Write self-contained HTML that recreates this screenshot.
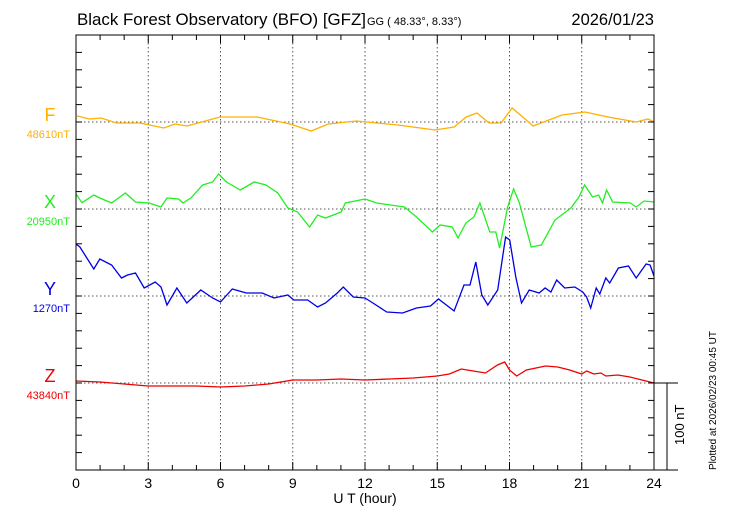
<!DOCTYPE html>
<html><head><meta charset="utf-8"><style>
body{margin:0;background:#fff;}
svg{display:block;font-family:"Liberation Sans",sans-serif;}
</style></head><body>
<svg id="chart" width="730" height="520" viewBox="0 0 730 520" xmlns="http://www.w3.org/2000/svg">
<text x="77" y="25" font-size="16.5" textLength="289" lengthAdjust="spacingAndGlyphs">Black Forest Observatory (BFO)  [GFZ]</text>
<text x="367" y="25" font-size="11">GG ( 48.33°,   8.33°)</text>
<text x="654" y="25" font-size="16.5" text-anchor="end">2026/01/23</text>
<text x="365" y="503" font-size="14" text-anchor="middle">U T (hour)</text>
<text transform="translate(716,470) rotate(-90)" font-size="10">Plotted at 2026/02/23 00:45 UT</text>
<text transform="translate(684,445) rotate(-90)" font-size="13">100 nT</text>
<g id="grid"></g><g id="series"></g><g id="frame"></g>
</svg>
<script>
const fHours=[0.04,0.54,1.04,1.7,2.66,3.65,4.11,4.61,5.98,7.52,8.89,9.76,10.47,11.63,13.37,14.91,15.7,16.2,16.65,17.15,17.65,18.11,18.98,20.18,21.14,22.09,23.26,23.75,24];
const fVals=[7,3.4,4.6,-1.1,-1.1,-6.9,-2.3,-4.6,5.7,5.7,-2.3,-10.3,-2.3,1.1,-3.4,-9.2,-5.7,5.7,10.3,-1.1,-1.1,16.1,-4.6,8,11.5,5.7,0,3.4,0];
const xHours=[0,0.25,0.74,0.99,1.48,2.05,2.47,3.04,3.53,3.78,4.27,4.44,4.77,5.26,5.67,5.92,6.25,6.82,7.4,7.89,8.38,8.8,9.2,9.7,10.03,10.36,11.01,11.18,12,12.49,13.64,14.14,14.8,15.12,15.62,15.86,16.19,16.52,16.77,17.18,17.43,17.59,17.92,18.17,18.41,18.9,19.32,19.89,20.55,20.88,21.12,21.45,21.7,21.86,22.03,22.28,23.02,23.26,23.59,24];
const xVals=[17.2,7.2,16.1,12.6,6.9,18.4,8,6.9,2.3,12.6,11.5,6.9,12.6,27.6,31,40.2,31,21.8,31,27.6,18.4,1.1,-3.4,-20.7,-6.9,-10.3,-3.4,6.9,11.5,6.9,2.3,-9.2,-26.4,-18.4,-20.7,-33.3,-16.1,-9.2,6.9,-26.4,-26.4,-44.8,2.3,23,6.9,-43.7,-41.4,-12.6,1.1,13.8,27.6,13.8,16.1,6.9,21.8,8,6.9,2.3,9.2,8];
const yHours=[0,0.16,0.74,0.99,1.48,1.89,2.14,2.47,2.83,3.29,3.53,3.78,4.19,4.6,5.18,5.67,6,6.49,7.07,7.73,8.22,8.8,9.04,9.62,10.03,10.36,10.85,11.1,11.51,12,12.33,12.9,13.56,14.14,14.72,15.05,15.7,16.11,16.36,16.6,16.85,17.1,17.51,17.84,18.01,18.26,18.5,18.82,19.23,19.48,19.72,19.96,20.29,20.71,21.04,21.2,21.37,21.6,21.75,22,22.16,22.52,22.94,23.26,23.67,23.84,24];
const yVals=[59.8,56.3,31,42.5,35.6,20.7,24.1,26.4,9.2,16.1,10.3,-10.3,9.2,-8,6.9,-2.3,-6.9,8,3.4,3.4,-2.3,1.1,-4.6,-4.6,-12.6,-8,3.4,10.3,-1.1,-2.3,-8,-18.4,-19.5,-13.8,-11.5,-3.4,-17.2,12.6,12.6,39.1,1.1,-10.3,6.9,67.8,64.4,21.8,-8,6.9,3.4,9.2,4.6,18.4,9.2,10.3,4.6,-1.1,-13.8,9.2,2.3,20.7,14.9,32.2,34.5,20.7,36.8,35.6,23];
const zHours=[0,1,2,3,4,5,6,7,8,9,10,11,12,13,14,15,15.5,16,16.5,17,17.5,17.8,18,18.3,18.7,19.5,20,20.5,21,21.2,21.5,21.8,22,22.5,23,23.5,24];
const zVals=[2.3,1.1,-1.1,-3.4,-3.4,-3.4,-4.6,-3.4,-1.1,3.4,3.4,4.6,3.4,4.6,5.7,8,10.3,16.1,13.8,11.5,20.7,24.1,14.9,8,14.9,19.5,18.4,14.9,10.3,13.8,10.3,11.5,8,9.2,6.9,3.4,0];
const tickHours=[0,3,6,9,12,15,18,21,24];
const components=[
 {name:"F",base:"48610nT",col:"#ffb000",y0:122,h:fHours,v:fVals},
 {name:"X",base:"20950nT",col:"#22ee22",y0:209,h:xHours,v:xVals},
 {name:"Y",base:"1270nT",col:"#0000e6",y0:296,h:yHours,v:yVals},
 {name:"Z",base:"43840nT",col:"#ee0000",y0:383,h:zHours,v:zVals}];
const L=76,R=654,T=35,B=470,S=0.87;
const xs=h=>L+h*(R-L)/24;
const NS="http://www.w3.org/2000/svg";
function mk(p,t,a){const e=document.createElementNS(NS,t);for(const k in a)e.setAttribute(k,a[k]);p.appendChild(e);return e;}
const grid=document.getElementById('grid'),ser=document.getElementById('series'),fr=document.getElementById('frame');
tickHours.forEach(h=>{
 if(h>0&&h<24){const g=mk(grid,'line',{x1:xs(h),x2:xs(h),y1:T,y2:B,stroke:'#555','stroke-width':1,'stroke-dasharray':'1.5,2.5'});
 
 }
 const t=mk(fr,'text',{x:xs(h),y:488,'font-size':14,'text-anchor':'middle'});t.textContent=h;
 
 
});
for(let h=0;h<=24;h++){const len=h%3==0?8:5;
 mk(fr,'line',{x1:xs(h),x2:xs(h),y1:B,y2:B-len,stroke:'#000'});
 mk(fr,'line',{x1:xs(h),x2:xs(h),y1:T,y2:T+len,stroke:'#000'});}
for(let y=B;y>=T;y-=87/5){mk(fr,'line',{x1:L,x2:L+6,y1:y,y2:y,stroke:'#000'});mk(fr,'line',{x1:R,x2:R-6,y1:y,y2:y,stroke:'#000'});}
const rect=mk(fr,'rect',{x:L,y:T,width:R-L,height:B-T,fill:'none',stroke:'#000','stroke-width':1});


mk(fr,'line',{x1:R,x2:678,y1:B,y2:B,stroke:'#000'});
mk(fr,'line',{x1:R,x2:678,y1:383,y2:383,stroke:'#000'});
const sb=mk(fr,'line',{x1:667,x2:667,y1:383,y2:B,stroke:'#000'});


components.forEach(c=>{
 const bl=mk(grid,'line',{x1:L,x2:R,y1:c.y0,y2:c.y0,stroke:'#555','stroke-dasharray':'1.5,2.5'});
 
 
 const pts=c.h.map((h,i)=>xs(h).toFixed(1)+','+(c.y0-c.v[i]*S).toFixed(1)).join(' ');
 const pl=mk(ser,'polyline',{points:pts,fill:'none',stroke:c.col,'stroke-width':1.3});
 
 
 const t=mk(fr,'text',{x:50,y:c.y0-1,'font-size':18,fill:c.col,'text-anchor':'middle'});t.textContent=c.name;
 
 
 const b=mk(fr,'text',{x:70,y:c.y0+16,'font-size':11,fill:c.col,'text-anchor':'end'});b.textContent=c.base;
 
 
});
</script>
</body></html>
